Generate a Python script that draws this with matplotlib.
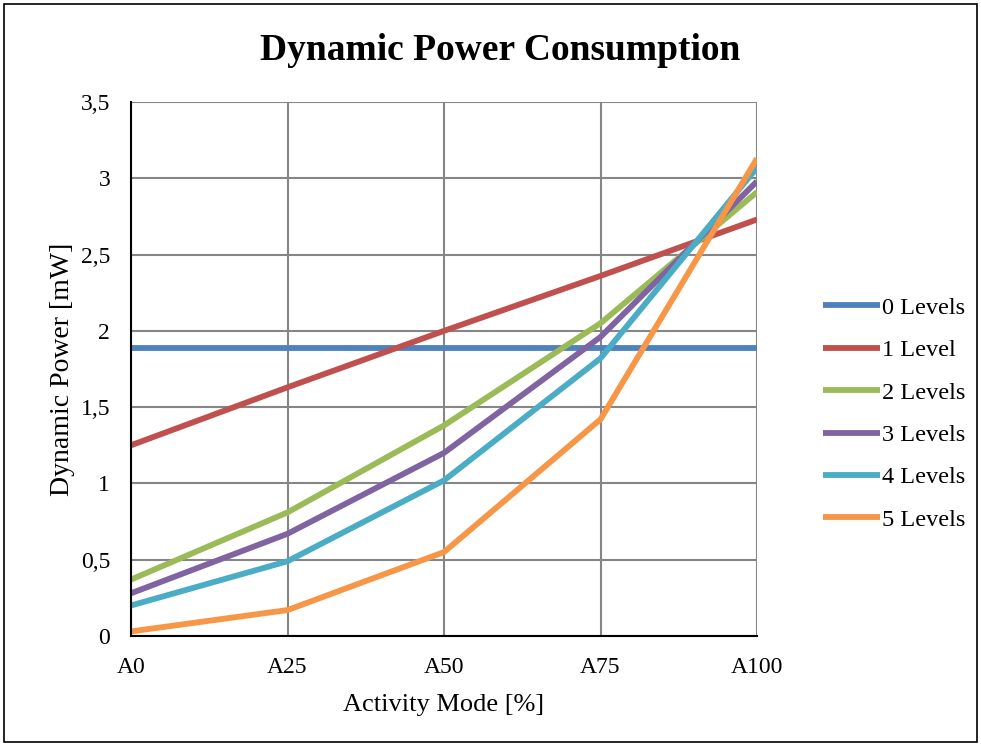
import matplotlib
matplotlib.use("Agg")
import matplotlib.pyplot as plt
from matplotlib.patches import Rectangle

modes = ["A0", "A25", "A50", "A75", "A100"]
series_names = ["0 Levels", "1 Level", "2 Levels", "3 Levels", "4 Levels", "5 Levels"]
levels0 = [1.89, 1.89, 1.89, 1.89, 1.89]
levels1 = [1.25, 1.63, 2.00, 2.36, 2.73]
levels2 = [0.37, 0.81, 1.38, 2.05, 2.91]
levels3 = [0.28, 0.67, 1.20, 1.96, 2.98]
levels4 = [0.20, 0.49, 1.02, 1.82, 3.07]
levels5 = [0.03, 0.17, 0.55, 1.42, 3.13]
y_ticks = [0, 0.5, 1, 1.5, 2, 2.5, 3, 3.5]
y_tick_labels = ["0", "0,5", "1", "1,5", "2", "2,5", "3", "3,5"]

colors = ["#4F81BD", "#C0504D", "#9BBB59", "#8064A2", "#4BACC6", "#F79646"]
all_series = [levels0, levels1, levels2, levels3, levels4, levels5]

plt.rcParams["font.family"] = ["Liberation Serif", "DejaVu Serif"]

fig = plt.figure(figsize=(9.81, 7.46), dpi=100)
ax = fig.add_axes([131 / 981, 1 - 636 / 746, (757 - 131) / 981, (636 - 102) / 746])

x = list(range(len(modes)))
for name, vals, c in zip(series_names, all_series, colors):
    ax.plot(x, vals, color=c, linewidth=4.2, label=name, solid_capstyle="butt", zorder=3)

ax.set_xlim(0, len(modes) - 1)
ax.set_ylim(0, 3.5)
ax.set_xticks(x)
ax.set_xticklabels(modes)
ax.set_yticks(y_ticks)
ax.set_yticklabels(y_tick_labels)
ax.tick_params(axis="both", length=0, labelsize=17)
ax.tick_params(axis="x", pad=15)
ax.tick_params(axis="y", pad=15)
ax.grid(True, color="#868686", linewidth=1.5, zorder=1)
for side in ["top", "right"]:
    ax.spines[side].set_visible(False)
for side in ["left", "bottom"]:
    ax.spines[side].set_color("black")
    ax.spines[side].set_linewidth(1.5)
    ax.spines[side].set_zorder(4)

ax.set_xlabel("Activity Mode [%]", fontsize=19, labelpad=12)
ax.set_ylabel("Dynamic Power [mW]", fontsize=20, labelpad=4)

fig.text(500 / 981, 1 - 51 / 746, "Dynamic Power Consumption", ha="center", va="center",
         fontsize=27, fontweight="bold")

leg = fig.legend(loc="upper left", bbox_to_anchor=(813 / 981, 1 - 287 / 746), frameon=False,
                 fontsize=17.5, handlelength=2.35, handletextpad=0.08, labelspacing=0.84,
                 borderaxespad=0)

fig.add_artist(Rectangle((4 / 981, 4 / 746), 973 / 981, 738 / 746, transform=fig.transFigure,
                         fill=False, edgecolor="black", linewidth=1.2))

fig.savefig("out.png", dpi=100)
